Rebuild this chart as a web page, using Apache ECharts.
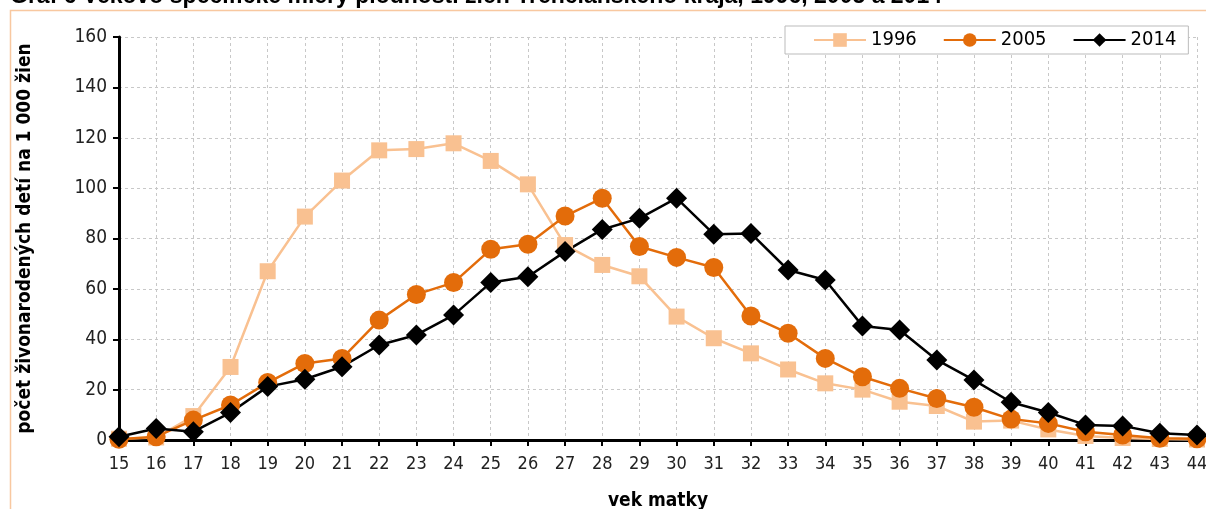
<!DOCTYPE html>
<html>
<head>
<meta charset="utf-8">
<script src="https://cdn.jsdelivr.net/npm/echarts@6/dist/echarts.min.js"></script>
<style>
  html, body { margin: 0; padding: 0; background: #fff; }
  #chart { width: 1206px; height: 509px; }
</style>
</head>
<body>
<div id="chart"></div>
<script>
// vek matky 15..44
var ages = ['15', '16', '17', '18', '19', '20', '21', '22', '23', '24', '25', '26', '27', '28', '29',
            '30', '31', '32', '33', '34', '35', '36', '37', '38', '39', '40', '41', '42', '43', '44'];

var y1996 = [0.5, 1, 9.5, 29, 67, 88.7, 103, 115, 115.5, 117.8, 110.8, 101.5, 77.4, 69.5, 65,
             49, 40.4, 34.4, 28, 22.5, 20, 15.2, 13.5, 7.3, 7.7, 4.2, 1.6, 0.8, 0.4, 0.2];
var y2005 = [0.3, 1.3, 7.9, 13.9, 22.8, 30.4, 32.4, 47.6, 57.8, 62.5, 75.7, 77.7, 88.9, 96, 76.8,
             72.5, 68.5, 49.2, 42.4, 32.4, 25.1, 20.5, 16.5, 13, 8.3, 6.6, 3.3, 2, 0.7, 0.5];
var y2014 = [1.3, 4.6, 3.3, 10.9, 21.2, 24.1, 29.1, 37.7, 41.7, 49.6, 62.5, 64.8, 74.8, 83.6, 88,
             96, 81.7, 82, 67.5, 63.5, 45.3, 43.7, 31.8, 23.8, 15, 10.9, 6, 5.6, 2.7, 2];

var seriesNames = ['1996', '2005', '2014'];
var yTicks = { min: 0, max: 160, interval: 20 };

var FONT = "'Liberation Sans Narrow', 'DejaVu Sans Condensed', 'Liberation Sans', sans-serif";

function line(name, data, color, symbol, size) {
    return {
        name: name,
        type: 'line',
        data: data,
        symbol: symbol,
        symbolSize: size,
        showAllSymbol: true,
        lineStyle: { color: color, width: 2.5 },
        itemStyle: { color: color },
        emphasis: { disabled: true },
        z: 3
    };
}

var chart = echarts.init(document.getElementById('chart'));
chart.setOption({
    animation: false,
    textStyle: { fontFamily: FONT },
    graphic: [
        {
            type: 'text', left: 10, top: -15, z: 10,
            style: {
                text: 'Graf 6 Vekovo špecifické miery plodnosti žien Trenčianskeho kraja, 1996, 2005 a 2014',
                font: "bold 23px 'Liberation Sans', Arial, sans-serif", fill: '#000'
            }
        },
        {
            type: 'rect', shape: { x: 10.5, y: 10.5, width: 1210, height: 520 }, z: 0,
            style: { fill: 'none', stroke: '#f8c8a0', lineWidth: 1.5 }
        }
    ],
    legend: {
        top: 26, left: 785,
        padding: [4, 12, 4, 28],
        itemGap: 26,
        itemWidth: 52, itemHeight: 17,
        backgroundColor: '#fff',
        borderColor: '#bbb', borderWidth: 1,
        textStyle: { fontFamily: FONT, fontSize: 20, color: '#000' },
        data: seriesNames
    },
    grid: { left: 119, right: 9, top: 37, bottom: 69, outerBoundsMode: 'none' },
    xAxis: {
        type: 'category',
        data: ages,
        boundaryGap: false,
        name: 'vek matky',
        nameLocation: 'middle',
        nameGap: 52,
        nameTextStyle: { fontFamily: FONT, fontSize: 19, fontWeight: 'bold', color: '#000' },
        axisLine: { lineStyle: { color: '#000', width: 3 } },
        axisTick: { alignWithLabel: true, length: 6, lineStyle: { color: '#000', width: 2 } },
        axisLabel: { fontFamily: FONT, fontSize: 18, color: '#222', margin: 15 },
        splitLine: { show: true, lineStyle: { color: '#c8c8c8', type: [3, 3], width: 1 } }
    },
    yAxis: {
        type: 'value',
        min: yTicks.min, max: yTicks.max, interval: yTicks.interval,
        name: 'počet živonarodených detí na 1 000 žien',
        nameLocation: 'middle',
        nameGap: 84,
        nameTextStyle: { fontFamily: FONT, fontSize: 19, fontWeight: 'bold', color: '#000' },
        axisLine: { show: true, lineStyle: { color: '#000', width: 3 } },
        axisTick: { show: true, length: 6, lineStyle: { color: '#000', width: 2 } },
        axisLabel: { fontFamily: FONT, fontSize: 19, color: '#222', margin: 12 },
        splitLine: { show: true, lineStyle: { color: '#c8c8c8', type: [3, 3], width: 1 } }
    },
    series: [
        line('1996', y1996, '#f9c191', 'rect', 16),
        line('2005', y2005, '#e36c0a', 'circle', 19),
        line('2014', y2014, '#000000', 'diamond', 21)
    ]
});
</script>
</body>
</html>
